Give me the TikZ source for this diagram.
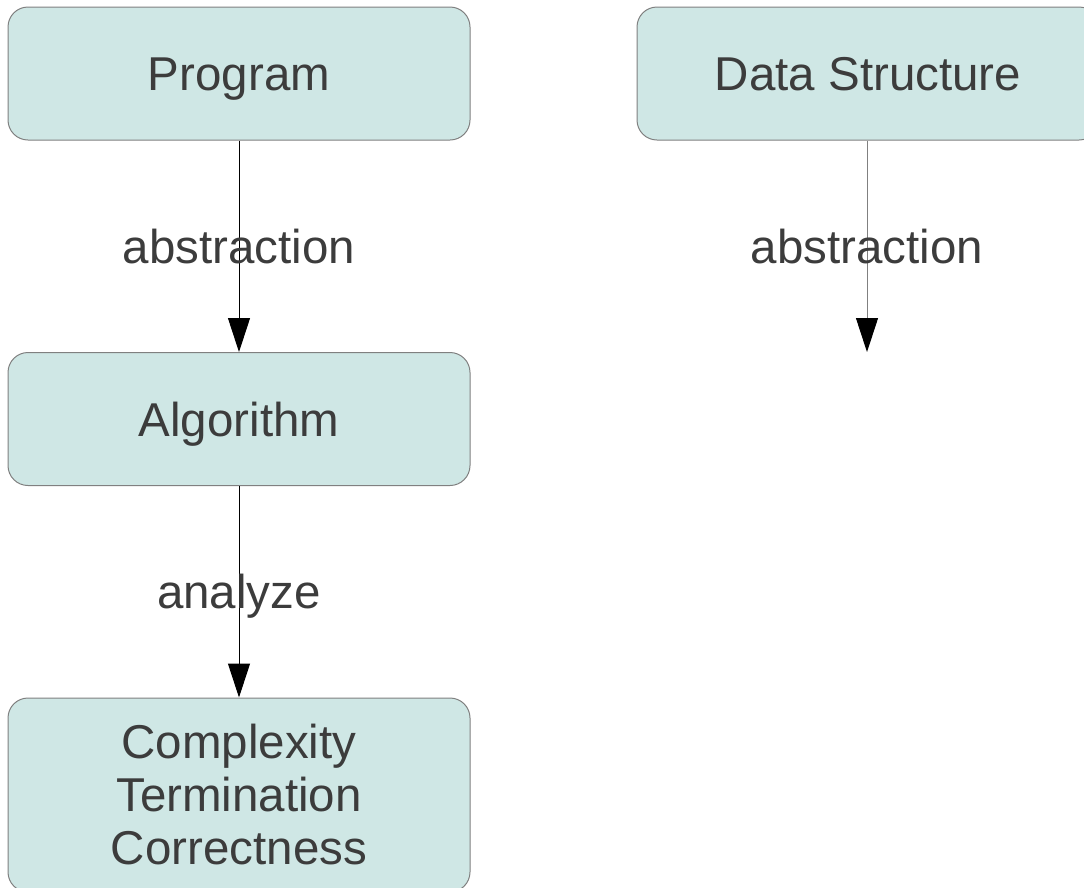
\documentclass[tikz,border=0pt]{standalone}
\usepackage{fontspec}
\setmainfont{Liberation Sans}
\usetikzlibrary{positioning}
\usetikzlibrary{arrows.meta}

\definecolor{boxfill}{HTML}{CFE7E5}
\definecolor{boxline}{HTML}{808080}
\definecolor{boxtext}{HTML}{3C3C3C}

\begin{document}
\begin{tikzpicture}[
        x=1pt, y=-1pt,
        block/.style={
            rectangle,
            rounded corners=20pt,
            draw=boxline,
            fill=boxfill,
            text=boxtext,
            line width=1pt,
            minimum width=462pt,
            minimum height=133pt,
            align=center,
            font=\fontsize{47.5}{53}\selectfont,
        },
        oneline/.style={
            text height=34pt,
            text depth=0pt,
        },
        edgelabel/.style={
            text=boxtext,
            text height=34pt,
            text depth=0pt,
            font=\fontsize{47.5}{53}\selectfont,
        },
        link/.style={
            -{Triangle[length=34pt,width=22pt,color=black]},
            line width=1pt,
        }
    ]

    \useasboundingbox (0,0) rectangle (1084,887);
    \clip (0,0) rectangle (1084,887);

    \node (program) at (239,73.5) [block, oneline] {Program};
    \node (datastruct) at (868,73.5) [block, oneline] {Data Structure};
    \node (algorithm) at (239,419) [block, oneline] {Algorithm};
    \node (props) at (239,795) [block, minimum height=194pt] {Complexity\\Termination\\Correctness};
    \coordinate (dsend) at (867,352);

    \draw [link] (program) -- node [edgelabel] {abstraction} (algorithm);
    \draw [link] (algorithm) -- node [edgelabel] {analyze} (props);
    \draw [link, boxline] (datastruct.south -| dsend) -- node [edgelabel] {abstraction} (dsend);

\end{tikzpicture}
\end{document}
